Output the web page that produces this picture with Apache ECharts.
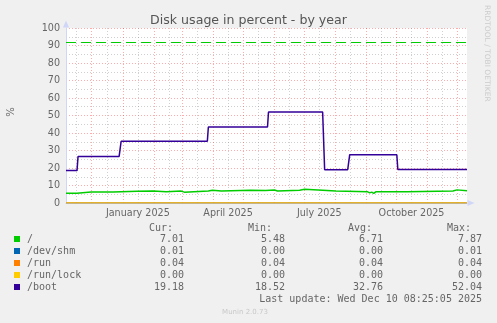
<!DOCTYPE html>
<html><head><meta charset="utf-8">
<script src="https://cdn.jsdelivr.net/npm/echarts@6/dist/echarts.min.js"></script>
<style>html,body{margin:0;padding:0;background:#f0f0f0}#c{width:497px;height:323px}</style>
</head><body><div id="c"></div>
<script>
// ---- data ----
const startTime = Date.UTC(2024, 10, 5, 8, 25, 5);   // graph start (400 days)
const endTime = Date.UTC(2025, 11, 10, 8, 25, 5);    // last update
// days since start, values in percent
const rootDays   = [0, 11, 12, 25, 26, 27, 47, 48, 71, 72, 87, 88, 100, 101, 115, 116, 118, 119, 142, 143, 146, 147, 155, 156, 184, 185, 199, 200, 208, 209, 211, 212, 233, 234, 238, 239, 256, 257, 269, 270, 301, 303, 305, 307, 309, 340, 341, 386, 387, 390, 391, 400];
const rootValues = [5.6, 5.6, 6.3, 6.3, 6.0, 6.3, 6.3, 6.7, 6.7, 6.9, 6.9, 6.4, 6.4, 6.8, 6.8, 6.2, 6.2, 6.8, 6.8, 7.3, 7.3, 6.8, 6.8, 7.3, 7.3, 7.1, 7.1, 7.4, 7.4, 6.9, 6.9, 7.3, 7.3, 7.8, 7.8, 7.3, 7.3, 6.9, 6.9, 6.4, 6.4, 5.8, 6.2, 5.48, 6.4, 6.4, 6.9, 6.9, 7.5, 7.5, 7.01, 7.01];
const shmDays    = [0, 390, 391, 400];
const shmValues  = [0.00, 0.00, 0.01, 0.01];
const runDays    = [0, 400];
const runValues  = [0.04, 0.04];
const lockDays   = [0, 400];
const lockValues = [0.00, 0.00];
const bootDays   = [0, 11, 12, 53, 55, 141, 142, 201, 202, 256, 258, 281, 283, 330, 331, 400];
const bootValues = [18.52, 18.52, 26.6, 26.6, 35.3, 35.3, 43.4, 43.4, 52.04, 52.04, 19.0, 19.0, 27.6, 27.6, 19.18, 19.18];
const warningLevel = 92;

// x-axis grid / labels
const monthStarts = ['2024-12-01','2025-01-01','2025-02-01','2025-03-01','2025-04-01','2025-05-01','2025-06-01','2025-07-01','2025-08-01','2025-09-01','2025-10-01','2025-11-01','2025-12-01'];
const midMonths   = ['2024-11-16','2024-12-16','2025-01-16','2025-02-16','2025-03-16','2025-04-16','2025-05-16','2025-06-16','2025-07-16','2025-08-16','2025-09-16','2025-10-16','2025-11-16'];
const labelDates  = ['2025-01-16','2025-04-16','2025-07-16','2025-10-16'];
const labelTexts  = ['January 2025','April 2025','July 2025','October 2025'];

// legend table
const legendNames  = ['/', '/dev/shm', '/run', '/run/lock', '/boot'];
const legendColors = ['#00cc00', '#0066b3', '#ff8000', '#ffcc00', '#330099'];
const curValues = ['7.01', '0.01', '0.04', '0.00', '19.18'];
const minValues = ['5.48', '0.00', '0.04', '0.00', '18.52'];
const avgValues = ['6.71', '0.00', '0.04', '0.00', '32.76'];
const maxValues = ['7.87', '0.01', '0.04', '0.00', '52.04'];
const lastUpdate = 'Last update: Wed Dec 10 08:25:05 2025';

// ---- build ----
const ts = s => Date.parse(s + 'T00:00:00Z');
const DAY = 86400000;
const toSeries = (days, vals) => days.map((d, i) => [startTime + d * DAY, vals[i]]);
const seriesData = [
  toSeries(rootDays, rootValues),
  toSeries(shmDays, shmValues),
  toSeries(runDays, runValues),
  toSeries(lockDays, lockValues),
  toSeries(bootDays, bootValues)
];
const labelMap = {};
labelDates.forEach((d, i) => { labelMap[ts(d)] = labelTexts[i]; });

const FONT = 'DejaVu Sans';
const MONO = 'DejaVu Sans Mono';
const TXT = '#666666';
const AXIS = '#CFD6F8';
const MGRID = 'rgba(255,0,0,0.33)';
const GRID = 'rgba(128,128,128,0.37)';

const chart = echarts.init(document.getElementById('c'), null, {renderer: 'canvas'});

const graphics = [];
const rowY = [239, 251, 263, 275, 287];
const headerY = 228;
[['Cur:', 149], ['Min:', 248], ['Avg:', 348], ['Max:', 447]].forEach(([t, x]) => {
  graphics.push({type: 'text', style: {text: t, x: x, y: headerY, font: '10px ' + MONO, fill: TXT, verticalAlign: 'middle', align: 'left'}});
});
legendNames.forEach((n, i) => {
  graphics.push({type: 'rect', shape: {x: 14, y: rowY[i] - 3, width: 6, height: 6}, style: {fill: legendColors[i]}});
  graphics.push({type: 'text', style: {text: n, x: 27, y: rowY[i], font: '10px ' + MONO, fill: TXT, verticalAlign: 'middle', align: 'left'}});
  [[curValues, 184], [minValues, 285], [avgValues, 383], [maxValues, 482]].forEach(([arr, x]) => {
    graphics.push({type: 'text', style: {text: arr[i], x: x, y: rowY[i], font: '10px ' + MONO, fill: TXT, verticalAlign: 'middle', align: 'right'}});
  });
});
graphics.push({type: 'text', style: {text: lastUpdate, x: 482, y: 299, font: '10px ' + MONO, fill: TXT, verticalAlign: 'middle', align: 'right'}});
graphics.push({type: 'text', style: {text: 'Munin 2.0.73', x: 245, y: 312, font: '7px ' + FONT, fill: '#c8c8c8', verticalAlign: 'middle', align: 'center'}});
graphics.push({type: 'text', x: 487, y: 5, rotation: -Math.PI / 2, style: {text: 'RRDTOOL / TOBI OETIKER', x: 0, y: 0, font: '7.5px ' + FONT, fill: '#cccccc', verticalAlign: 'middle', align: 'left'}});
graphics.push({type: 'text', x: 11, y: 112, rotation: Math.PI / 2, style: {text: '%', x: 0, y: 0, font: '10px ' + FONT, fill: TXT, verticalAlign: 'middle', align: 'center'}});

const option = {
  animation: false,
  backgroundColor: '#f0f0f0',
  title: {
    text: 'Disk usage in percent - by year',
    left: 'center', top: 9,
    textStyle: {fontFamily: FONT, fontSize: 12.6, fontWeight: 'normal', color: '#555555'}
  },
  grid: {left: 66, top: 28, width: 401, height: 175, show: true, backgroundColor: '#ffffff', borderWidth: 0, containLabel: false},
  xAxis: [
    {
      type: 'value', min: startTime, max: endTime, scale: true,
      position: 'bottom',
      axisLine: {show: true, onZero: false, lineStyle: {color: AXIS, width: 1}, symbol: ['none', 'triangle'], symbolSize: [6, 7], symbolOffset: [0, 4]},
      axisTick: {show: false, customValues: monthStarts.map(ts)},
      axisLabel: {
        customValues: labelDates.map(ts),
        formatter: v => labelMap[v] || '',
        fontFamily: FONT, fontSize: 9.6, color: TXT, margin: 5
      },
      splitLine: {show: true, lineStyle: {color: MGRID, type: [1, 2], width: 1}}
    },
    {
      type: 'value', min: startTime, max: endTime, scale: true,
      position: 'bottom',
      axisLine: {show: false},
      axisTick: {show: false, customValues: midMonths.map(ts)},
      axisLabel: {show: false},
      splitLine: {show: true, lineStyle: {color: GRID, type: [1, 2], width: 1}}
    }
  ],
  yAxis: {
    type: 'value', min: 0, max: 100, interval: 10,
    axisLine: {show: true, lineStyle: {color: AXIS, width: 1}, symbol: ['none', 'triangle'], symbolSize: [6, 7], symbolOffset: [0, 4]},
    axisTick: {show: false},
    axisLabel: {fontFamily: FONT, fontSize: 9.6, color: TXT, margin: 6},
    splitLine: {show: true, lineStyle: {color: MGRID, type: [1, 2], width: 1}},
    minorTick: {show: false, splitNumber: 2},
    minorSplitLine: {show: true, lineStyle: {color: GRID, type: [1, 2], width: 1}}
  },
  series: legendNames.map((n, i) => {
    const main = (i === 0 || i === 4);
    const s = {
      name: n, type: 'line', xAxisIndex: 0, data: seriesData[i],
      showSymbol: false, symbol: 'none', clip: main ? false : true,
      lineStyle: {color: legendColors[i], width: main ? 1.5 : 1},
      itemStyle: {color: legendColors[i]}
    };
    if (i === 0) {
      s.markLine = {
        silent: true, symbol: 'none', label: {show: false},
        lineStyle: {color: legendColors[0], type: [10, 5], width: 1.2},
        data: [{yAxis: warningLevel}]
      };
    }
    return s;
  }),
  graphic: graphics
};
chart.setOption(option);
</script>
</body></html>
